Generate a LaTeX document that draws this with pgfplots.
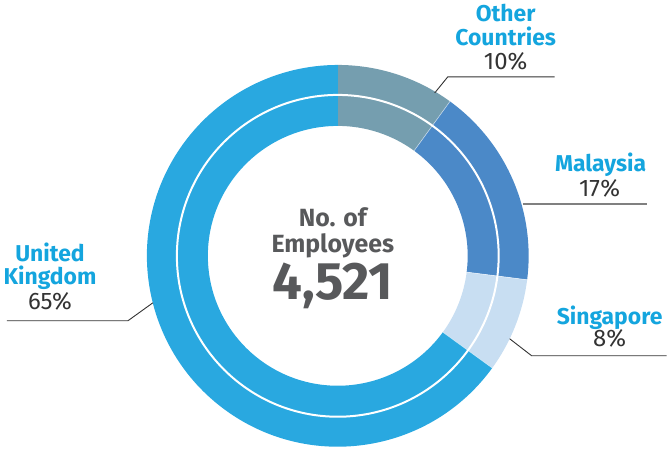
\documentclass[border=0pt]{standalone}
\usepackage{pgfplots}
\pgfplotsset{compat=1.18}
\usepackage{pgfplotstable}
\usepackage{fontspec}
\setmainfont{Fira Sans}
\definecolor{cOther}{HTML}{759EAF}
\definecolor{cMalay}{HTML}{4B89C8}
\definecolor{cSing}{HTML}{C8DEF2}
\definecolor{cUK}{HTML}{29A8E0}
\definecolor{lblue}{HTML}{14A5DE}
\definecolor{ctext}{HTML}{58595B}
\definecolor{ptext}{HTML}{333333}

\pgfplotstableread{
name pct
Other 10
Malaysia 17
Singapore 8
UK 65
}\donutdata

\pgfplotstablegetelem{0}{pct}\of\donutdata \let\pA\pgfplotsretval
\pgfplotstablegetelem{1}{pct}\of\donutdata \let\pB\pgfplotsretval
\pgfplotstablegetelem{2}{pct}\of\donutdata \let\pC\pgfplotsretval
\pgfplotstablegetelem{3}{pct}\of\donutdata \let\pD\pgfplotsretval
\pgfmathsetmacro\aO{90}
\pgfmathsetmacro\aA{90-3.6*\pA}
\pgfmathsetmacro\aB{\aA-3.6*\pB}
\pgfmathsetmacro\aC{\aB-3.6*\pC}
\pgfmathsetmacro\aD{\aC-3.6*\pD}

\newcommand\sector[3]{% color, start, end
  \fill[#1] (axis cs:338,191) ++(#2:191bp) arc[start angle=#2, end angle=#3, radius=191bp]
    -- ++(#3:-61bp) arc[start angle=#3, end angle=#2, radius=130bp] -- cycle;}

\begin{document}
\begin{tikzpicture}
\begin{axis}[x=1bp, y=1bp, xmin=0, xmax=667, ymin=0, ymax=447,
  hide axis, clip=false]
\path (axis cs:0,0) rectangle (axis cs:667,447);
\sector{cOther}{\aO}{\aA}
\sector{cMalay}{\aA}{\aB}
\sector{cSing}{\aB}{\aC}
\sector{cUK}{\aC}{\aD}
\draw[white, line width=2bp] (axis cs:338,191) circle[radius=161bp];
\draw[white, opacity=0.6, line width=0.6bp] (axis cs:338,191) ++(\aA:130bp) -- ++(\aA:61bp);
\draw[white, opacity=0.6, line width=0.6bp] (axis cs:338,191) ++(\aB:130bp) -- ++(\aB:61bp);
\draw[white, opacity=0.6, line width=0.6bp] (axis cs:338,191) ++(\aC:130bp) -- ++(\aC:61bp);
% leader lines
\draw[ptext, line width=0.9bp] (axis cs:435,354) -- (axis cs:448,370) -- (axis cs:555,370);
\draw[gray, line width=1.3bp] (axis cs:523,243) -- (axis cs:647,243);
\draw[ptext, line width=0.9bp] (axis cs:510,108) -- (axis cs:532,91) -- (axis cs:667,91);
\draw[ptext, line width=0.9bp] (axis cs:153,144) -- (axis cs:128,126) -- (axis cs:7,126);
% labels
\node[anchor=base, inner sep=0pt, lblue, font=\bfseries\fontsize{23}{24}\selectfont] at (axis cs:506,425) {Other};
\node[anchor=base, inner sep=0pt, lblue, font=\bfseries\fontsize{23}{24}\selectfont] at (axis cs:506,401) {Countries};
\node[anchor=base, inner sep=0pt, ptext, font=\fontsize{24}{24}\selectfont] at (axis cs:506,377) {10\%};
\node[anchor=base, inner sep=0pt, lblue, font=\bfseries\fontsize{23}{24}\selectfont] at (axis cs:601,275) {Malaysia};
\node[anchor=base, inner sep=0pt, ptext, font=\fontsize{24}{24}\selectfont] at (axis cs:600,250) {17\%};
\node[anchor=base, inner sep=0pt, lblue, font=\bfseries\fontsize{23}{24}\selectfont] at (axis cs:610,122) {Singapore};
\node[anchor=base, inner sep=0pt, ptext, font=\fontsize{24}{24}\selectfont] at (axis cs:610,100) {8\%};
\node[anchor=base, inner sep=0pt, lblue, font=\bfseries\fontsize{23}{24}\selectfont] at (axis cs:50,185) {United};
\node[anchor=base, inner sep=0pt, lblue, font=\bfseries\fontsize{23}{24}\selectfont] at (axis cs:50,162) {Kingdom};
\node[anchor=base, inner sep=0pt, ptext, font=\fontsize{24}{24}\selectfont] at (axis cs:50,137) {65\%};
\node[anchor=base, inner sep=0pt, ctext, font=\bfseries\fontsize{25}{26}\selectfont] at (axis cs:333,220) {No. of};
\node[anchor=base, inner sep=0pt, ctext, font=\bfseries\fontsize{25}{26}\selectfont] at (axis cs:333,194) {Employees};
\node[anchor=base, inner sep=0pt, ctext, font=\bfseries\fontsize{53}{52}\selectfont] at (axis cs:333,147) {4,521};
\end{axis}
\end{tikzpicture}
\end{document}
